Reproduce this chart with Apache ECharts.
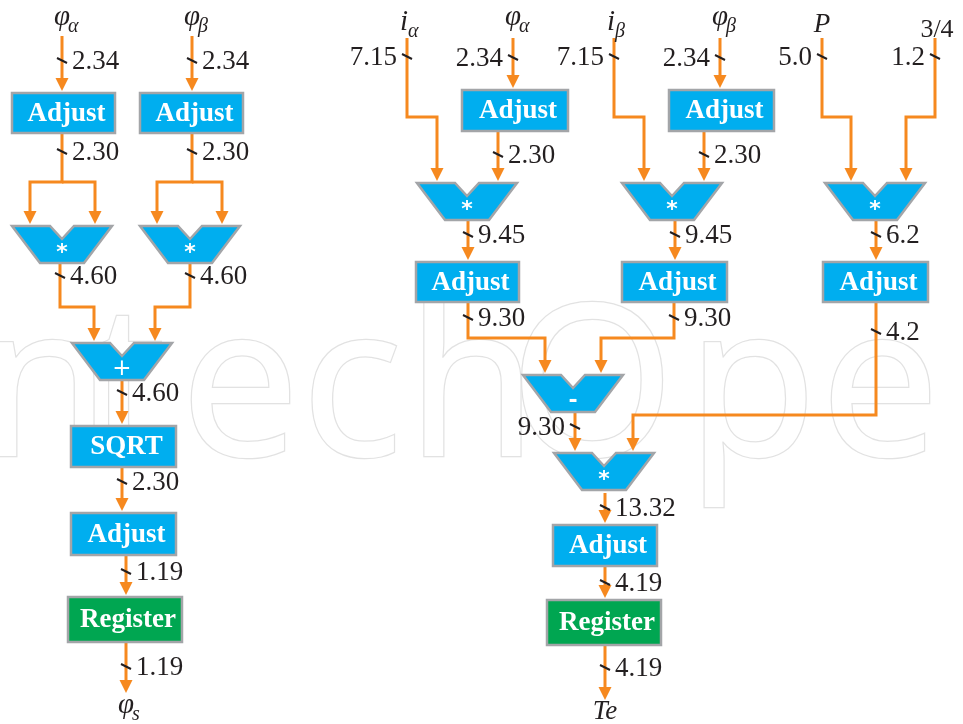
<!DOCTYPE html>
<html>
<head>
<meta charset="utf-8">
<script src="https://cdn.jsdelivr.net/npm/echarts@6/dist/echarts.min.js"></script>
<style>
    html, body { margin: 0; padding: 0; background: #fff; }
    #main { width: 963px; height: 724px; }
</style>
</head>
<body>
<div id="main"></div>
<script>
// block names, operator signs and the word lengths written on each wire
var blockLabels = ['Adjust', 'Adjust', 'SQRT', 'Adjust', 'Register',
    'Adjust', 'Adjust', 'Adjust', 'Adjust', 'Adjust', 'Adjust', 'Register'];
var opSigns = ['*', '*', '+', '*', '*', '*', '-', '*'];
var wireWidths = ['2.34', '2.34', '2.30', '2.30', '4.60', '4.60', '4.60', '2.30', '1.19', '1.19',
    '7.15', '2.34', '2.30', '9.45', '9.30', '7.15', '2.34', '2.30', '9.45', '9.30',
    '5.0', '1.2', '6.2', '4.2', '9.30', '13.32', '4.19', '4.19'];
var inputSymbols = ['φ', 'φ', 'i', 'φ', 'i', 'φ', 'P', '3/4'];
var inputSubs = ['α', 'β', 'α', 'α', 'β', 'β', '', ''];
var outputSymbols = ['φ', 'Te'];
var outputSubs = ['s', ''];

// layout of the diagram (axis units = pixels)
var blockBoxes = [[12, 93, 103, 40], [140, 93, 103, 40], [71, 426, 105, 41], [71, 513, 105, 42],
    [68, 597, 114, 45], [462, 90, 106, 41], [669, 90, 105, 41], [416, 262, 103, 40],
    [622, 262, 105, 40], [823, 262, 105, 40], [553, 525, 104, 41], [547, 600, 114, 45]];
var opSpots = [[62, 226], [190, 226], [122, 343], [467, 183], [672, 183], [875, 183], [573, 375], [604, 453]];
var wirePaths = [
    [[62, 36], [62, 91]],
    [[192, 36], [192, 91]],
    [[62, 133], [62, 182], [30, 182], [30, 224]],
    [[62, 182], [95, 182], [95, 224]],
    [[192, 133], [192, 182], [157, 182], [157, 224]],
    [[192, 182], [222, 182], [222, 224]],
    [[60, 263], [60, 307], [94, 307], [94, 341]],
    [[190, 263], [190, 307], [155, 307], [155, 341]],
    [[122, 379], [122, 424]],
    [[122, 467], [122, 511]],
    [[126, 555], [126, 595]],
    [[126, 642], [126, 693]],
    [[407, 38], [407, 117], [437, 117], [437, 181]],
    [[513, 38], [513, 88]],
    [[498, 131], [498, 181]],
    [[468, 220], [468, 260]],
    [[468, 302], [468, 338], [545, 338], [545, 373]],
    [[614, 38], [614, 117], [644, 117], [644, 181]],
    [[720, 38], [720, 88]],
    [[704, 131], [704, 181]],
    [[675, 220], [675, 260]],
    [[674, 302], [674, 338], [601, 338], [601, 373]],
    [[822, 38], [822, 117], [851, 117], [851, 181]],
    [[935, 38], [935, 117], [906, 117], [906, 181]],
    [[876, 220], [876, 260]],
    [[876, 303], [876, 415], [633, 415], [633, 451]],
    [[575, 411], [575, 451]],
    [[605, 493], [605, 523]],
    [[605, 566], [605, 598]],
    [[605, 645], [605, 700]]
];
// x, y of each width tick, 1 = label on the right, -1 = on the left
var tickSpots = [[62, 61, 1], [192, 61, 1], [62, 152, 1], [192, 152, 1], [60, 276, 1], [190, 276, 1],
    [122, 393, 1], [122, 482, 1], [126, 572, 1], [126, 667, 1],
    [407, 57, -1], [513, 58, -1], [498, 155, 1], [468, 235, 1], [468, 318, 1],
    [614, 57, -1], [720, 58, -1], [704, 155, 1], [675, 235, 1], [674, 318, 1],
    [822, 57, -1], [935, 57, -1], [876, 235, 1], [876, 332, 1],
    [575, 427, -1], [605, 508, 1], [605, 583, 1], [605, 668, 1]];
var inputSpots = [[62, 17], [192, 17], [407, 22], [513, 17], [614, 22], [720, 17], [822, 25], [937, 30]];
var outputSpots = [[126, 705], [605, 712]];
// faint publisher watermark
var markLetters = ['I', 'n', 't', 'e', 'c', 'h', 'O', 'p', 'e', 'n'];
var markCenters = [-50, 45, 128, 240, 352, 472, 592, 752, 880, 1012];

var ORANGE = '#f6891f', BLUE = '#00aeef', GREEN = '#00a651', EDGE = '#a3a5a8', INK = '#231f20';
var SERIF = '"Liberation Serif", "DejaVu Serif", serif';

var chart = echarts.init(document.getElementById('main'));

function renderWire(params, api) {
    var pts = wirePaths[params.dataIndex].map(function (p) { return api.coord(p); });
    var a = pts[pts.length - 2], b = pts[pts.length - 1];
    var dx = b[0] - a[0], dy = b[1] - a[1];
    var len = Math.sqrt(dx * dx + dy * dy);
    var ux = dx / len, uy = dy / len, L = 13, W = 6.5;
    var base = [b[0] - ux * L, b[1] - uy * L];
    var line = pts.slice(0, -1).concat([base]);
    return {
        type: 'group',
        children: [
            {type: 'polyline', shape: {points: line},
                style: {stroke: ORANGE, lineWidth: 3, fill: null, lineJoin: 'miter'}},
            {type: 'polygon',
                shape: {points: [b, [base[0] - uy * W, base[1] + ux * W], [base[0] + uy * W, base[1] - ux * W]]},
                style: {fill: ORANGE}}
        ]
    };
}

function renderBlock(params, api) {
    var i = params.dataIndex;
    var p0 = api.coord([api.value(0), api.value(1)]);
    var p1 = api.coord([api.value(0) + api.value(2), api.value(1) + api.value(3)]);
    var label = blockLabels[i];
    return {
        type: 'group',
        children: [
            {type: 'rect', shape: {x: p0[0], y: p0[1], width: p1[0] - p0[0], height: p1[1] - p0[1]},
                style: {fill: label === 'Register' ? GREEN : BLUE, stroke: EDGE, lineWidth: 2.5}},
            {type: 'text', style: {
                text: label, x: (p0[0] + p1[0]) / 2 + 3, y: (p0[1] + p1[1]) / 2 + 1,
                fill: '#fff', fontSize: 27, fontWeight: 'bold', fontFamily: SERIF,
                textAlign: 'center', textVerticalAlign: 'middle', align: 'center', verticalAlign: 'middle'
            }}
        ]
    };
}

function renderOp(params, api) {
    var c = api.coord([api.value(0), api.value(1)]);
    var x = c[0], y = c[1];
    var sign = opSigns[params.dataIndex];
    return {
        type: 'group',
        children: [
            {type: 'polygon', shape: {points: [[x - 50, y], [x - 12, y], [x, y + 13], [x + 12, y],
                [x + 50, y], [x + 22, y + 37], [x - 22, y + 37]]},
                style: {fill: BLUE, stroke: EDGE, lineWidth: 2.5, lineJoin: 'miter'}},
            {type: 'text', style: {
                text: sign, x: x, y: y + (sign === '*' ? 27 : 26),
                fill: '#fff', fontSize: sign === '+' ? 23 : 22, fontWeight: sign === '+' ? 'normal' : 'bold',
                fontFamily: '"DejaVu Sans", sans-serif',
                textAlign: 'center', textVerticalAlign: 'middle', align: 'center', verticalAlign: 'middle'
            }}
        ]
    };
}

function renderTick(params, api) {
    var i = params.dataIndex;
    var c = api.coord([api.value(0), api.value(1)]);
    var side = tickSpots[i][2];
    return {
        type: 'group',
        children: [
            {type: 'line', shape: {x1: c[0] - 5, y1: c[1] - 3, x2: c[0] + 5, y2: c[1] + 2},
                style: {stroke: INK, lineWidth: 2}},
            {type: 'text', style: {
                text: wireWidths[i], x: c[0] + side * 10, y: c[1] + 1,
                fill: INK, fontSize: 27, fontFamily: SERIF,
                textAlign: side > 0 ? 'left' : 'right', align: side > 0 ? 'left' : 'right',
                textVerticalAlign: 'middle', verticalAlign: 'middle'
            }}
        ]
    };
}

function portRenderer(symbols, subs) {
    return function (params, api) {
        var i = params.dataIndex;
        var c = api.coord([api.value(0), api.value(1)]);
        var sym = symbols[i], sub = subs[i];
        var upright = sym === '3/4';
        var kids = [];
        if (sub) {
            var isPhi = sym === 'φ';
            var ax = c[0] + (isPhi ? 8 : 1);
            kids.push({type: 'text', style: {
                text: sym, x: ax, y: c[1], fill: INK, fontSize: 29,
                fontStyle: 'italic', fontFamily: SERIF,
                textAlign: 'right', align: 'right', textVerticalAlign: 'middle', verticalAlign: 'middle'}});
            kids.push({type: 'text', style: {
                text: sub, x: ax - (isPhi ? 2 : 0), y: c[1] + 10, fill: INK, fontSize: 20,
                fontStyle: 'italic', fontFamily: SERIF,
                textAlign: 'left', align: 'left', textVerticalAlign: 'middle', verticalAlign: 'middle'}});
        } else {
            kids.push({type: 'text', style: {
                text: sym, x: c[0], y: c[1], fill: INK, fontSize: upright ? 26 : 27,
                fontStyle: upright ? 'normal' : 'italic', fontFamily: SERIF,
                textAlign: 'center', align: 'center', textVerticalAlign: 'middle', verticalAlign: 'middle'}});
        }
        return {type: 'group', children: kids};
    };
}

var option = {
    animation: false,
    backgroundColor: '#fff',
    grid: {left: 0, right: 0, top: 0, bottom: 0},
    xAxis: {type: 'value', min: 0, max: 963, show: false},
    yAxis: {type: 'value', min: 0, max: 724, inverse: true, show: false},
    graphic: {
        elements: markLetters.map(function (ch, i) {
            return {
                type: 'text', z: -10, silent: true,
                style: {
                    text: ch, x: markCenters[i], y: 502,
                    font: '212px "Noto Sans"', fill: '#fff', stroke: '#e2e2e2', lineWidth: 2.5,
                    textAlign: 'center', textVerticalAlign: 'bottom', align: 'center', verticalAlign: 'bottom'
                }
            };
        })
    },
    series: [
        {type: 'custom', name: 'wires', clip: false, z: 2, renderItem: renderWire,
            data: wirePaths.map(function (p) { return p[p.length - 1]; })},
        {type: 'custom', name: 'blocks', clip: false, z: 3, renderItem: renderBlock, data: blockBoxes},
        {type: 'custom', name: 'operators', clip: false, z: 3, renderItem: renderOp, data: opSpots},
        {type: 'custom', name: 'widths', clip: false, z: 4, renderItem: renderTick,
            data: tickSpots.map(function (t) { return [t[0], t[1]]; })},
        {type: 'custom', name: 'inputs', clip: false, z: 4,
            renderItem: portRenderer(inputSymbols, inputSubs), data: inputSpots},
        {type: 'custom', name: 'outputs', clip: false, z: 4,
            renderItem: portRenderer(outputSymbols, outputSubs), data: outputSpots}
    ]
};
chart.setOption(option);
</script>
</body>
</html>
